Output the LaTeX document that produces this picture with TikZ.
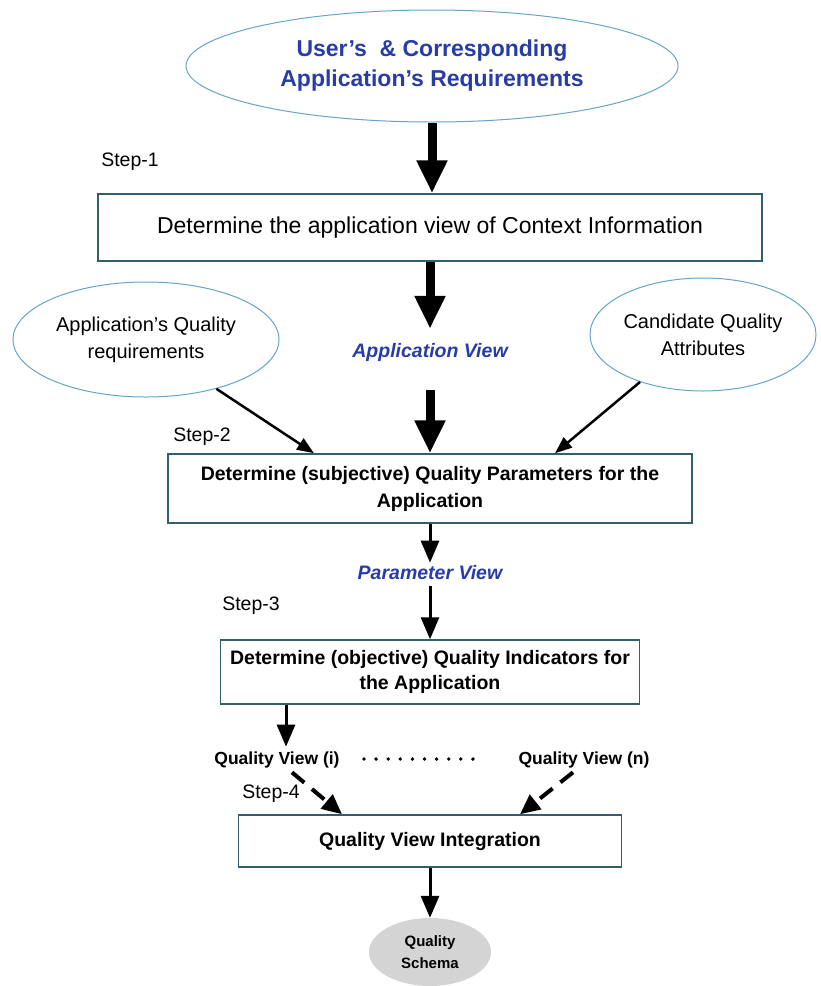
\documentclass[tikz,border=0pt]{standalone}
\usepackage{fontspec}
\setmainfont{Liberation Sans}
\usetikzlibrary{shapes.geometric,arrows.meta,positioning}
\definecolor{ellborder}{RGB}{100,165,200}
\definecolor{boxborder}{RGB}{50,95,110}
\definecolor{bluetext}{RGB}{40,60,165}
\definecolor{grayfill}{RGB}{212,212,212}
\begin{document}
\begin{tikzpicture}[x=1pt,y=1pt,
  ell/.style={draw=ellborder,line width=1pt,ellipse,inner sep=0pt,align=center},
  box/.style={draw=boxborder,line width=1.5pt,rectangle,inner sep=0pt,align=center},
  steplabel/.style={inner sep=0pt,font=\fontsize{19.5}{22}\selectfont},
  viewlabel/.style={inner sep=0pt,text=bluetext,font=\fontsize{19.5}{22}\selectfont\bfseries\itshape},
  qvlabel/.style={inner sep=0pt,font=\fontsize{17.5}{20}\selectfont\bfseries},
  thickarrow/.style={line width=9pt,-{Triangle[length=33pt,width=29pt]}},
  thinarrow/.style={line width=3pt,-{Triangle[length=22pt,width=18pt]}},
  diagarrow/.style={line width=2.5pt,-{Triangle[length=17pt,width=13pt]}},
  dasharrow/.style={line width=4pt,dash pattern=on 16pt off 10pt,-{Triangle[length=20pt,width=18pt]}},
  dotmark/.style={circle,fill=black,inner sep=0pt,minimum size=3.8pt}
]
\useasboundingbox (0,0) rectangle (821,-986);

% top ellipse
\node[ell,minimum width=492pt,minimum height=112pt,text=bluetext,
      font=\fontsize{23}{30}\selectfont\bfseries] (req) at (432,-66)
  {User’s \ \& Corresponding\\Application’s Requirements};

\node[steplabel] (s1) at (130,-162) {Step-1};

\node[box,minimum width=664pt,minimum height=67pt,
      font=\fontsize{23}{28}\selectfont] (b1) at (430,-227.5)
  {Determine the application view of Context Information};

\node[ell,minimum width=266pt,minimum height=115pt,
      font=\fontsize{20}{27}\selectfont] (lq) at (146,-339.5)
  {Application’s Quality\\requirements};
\node[ell,minimum width=226pt,minimum height=113pt,
      font=\fontsize{20}{27}\selectfont] (rq) at (703,-334.5)
  {Candidate Quality\\Attributes};

\node[viewlabel] (av) at (430,-352) {Application View};

\node[steplabel] (s2) at (202,-437) {Step-2};

\node[box,minimum width=524pt,minimum height=69pt,
      font=\fontsize{19.5}{27}\selectfont\bfseries] (b2) at (430,-488.5)
  {Determine (subjective) Quality Parameters for the\\Application};

\node[viewlabel] (pv) at (430,-573) {Parameter View};

\node[steplabel] (s3) at (251,-606) {Step-3};

\node[box,minimum width=419pt,minimum height=64pt,
      font=\fontsize{19.5}{25}\selectfont\bfseries] (b3) at (430,-672)
  {Determine (objective) Quality Indicators for\\the Application};

\node[qvlabel] (qvi) at (277,-760) {Quality View (i)};
\node[qvlabel] (qvn) at (584,-760) {Quality View (n)};
\foreach \i in {0,...,9} {
  \node[dotmark] (d\i) at (364+12.1*\i,-759) {};
}

\node[steplabel] (s4) at (271,-794) {Step-4};

\node[box,minimum width=383pt,minimum height=52pt,
      font=\fontsize{19.5}{24}\selectfont\bfseries] (b4) at (430,-841)
  {Quality View Integration};

\node[ellipse,fill=grayfill,minimum width=122pt,minimum height=68pt,inner sep=0pt,
      align=center,font=\fontsize{15}{22}\selectfont\bfseries] (qs) at (430,-952)
  {Quality\\Schema};

% connectors
\draw[thickarrow] (req.south) -- (req.south |- b1.north);
\draw[thickarrow] (b1.south) -- ++(0,-67);
\coordinate (a3top) at (430,-390);
\draw[thickarrow] (a3top) -- (a3top |- b2.north);
\draw[diagarrow] (lq.-35) -- ([xshift=-116pt]b2.north);
\draw[diagarrow] (rq.217) -- ([xshift=125pt]b2.north);
\draw[thinarrow] (b2.south) -- ([yshift=3pt]pv.north);
\draw[thinarrow] ([yshift=-6pt]pv.south) -- (b3.north);
\draw[thinarrow] ([xshift=-144pt]b3.south) -- ([xshift=9pt,yshift=5pt]qvi.north);
\draw[dasharrow] ([xshift=15pt,yshift=-4pt]qvi.south) -- ([xshift=-88pt]b4.north);
\draw[dasharrow] ([xshift=-11pt,yshift=-4pt]qvn.south) -- ([xshift=90pt]b4.north);
\draw[thinarrow] (b4.south) -- (qs.north);
\end{tikzpicture}
\end{document}
